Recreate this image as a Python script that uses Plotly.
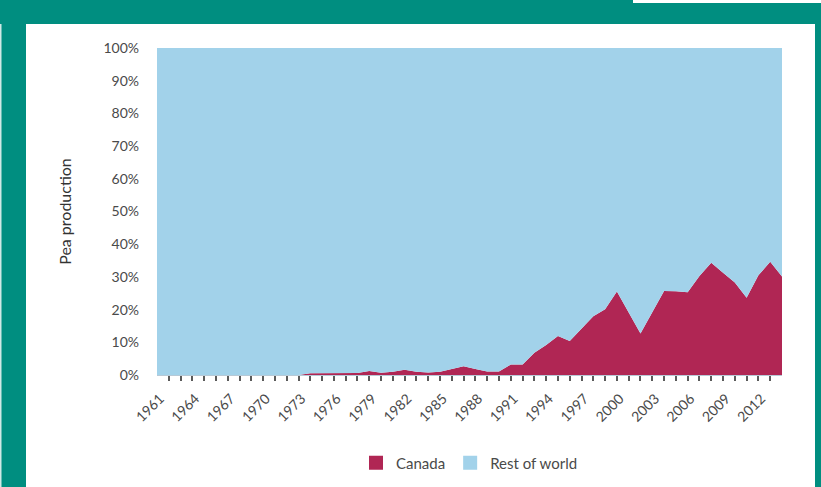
import plotly.graph_objects as go

years = list(range(1961, 2015))
canada_share = [0, 0, 0, 0, 0, 0, 0, 0, 0, 0, 0, 0, 0,
                0.5, 0.5, 0.5, 0.6, 0.6, 1.2, 0.7, 1.0, 1.6, 1.0, 0.8,
                1.0, 1.9, 2.7, 1.8, 1.1, 1.1, 3.2, 3.2, 6.8, 9.2, 11.9,
                10.4, 14.2, 18.0, 20.1, 25.5, 19.1, 12.7, 19.2, 25.7, 25.6,
                25.3, 30.3, 34.3, 31.3, 28.3, 23.6, 30.5, 34.6, 30.1]
rest_share = [round(100 - v, 1) for v in canada_share]

label_years = list(range(1961, 2013, 3))
tick_years = list(range(1962, 2014))
y_ticks = list(range(0, 101, 10))
y_labels = [f"{v}%" for v in y_ticks]

CANADA = "#B02654"
REST = "#A2D2EA"
TEAL = "#008E80"
FONT = "Lato"
TXT = "#4a4a4a"

fig = go.Figure()
fig.add_trace(go.Scatter(x=years, y=canada_share, stackgroup="s", mode="lines",
                         line=dict(width=0, color=CANADA), fillcolor=CANADA,
                         name="Canada", showlegend=False, hoverinfo="skip"))
fig.add_trace(go.Scatter(x=years, y=rest_share, stackgroup="s", mode="lines",
                         line=dict(width=0, color=REST), fillcolor=REST,
                         name="Rest of world", showlegend=False, hoverinfo="skip"))
# legend entries with square swatches (attached to the tick-mark axis so it is drawn)
fig.add_trace(go.Scatter(x=[None], y=[None], mode="markers", name="Canada", xaxis="x2",
                         marker=dict(symbol="square", size=14, color=CANADA)))
fig.add_trace(go.Scatter(x=[None], y=[None], mode="markers", name="Rest of world", xaxis="x2",
                         marker=dict(symbol="square", size=14, color=REST)))

L, R, T, B = 157, 39, 48, 112
W, H = 821, 487
pw, ph = W - L - R, H - T - B

def px(x):
    return (x - L) / pw

def py(y):
    return (H - B - y) / ph

shapes = [
    dict(type="rect", xref="paper", yref="paper", layer="below",
         x0=px(26), x1=px(815), y0=py(487) - 0.05, y1=py(24),
         fillcolor="white", line=dict(width=0)),
    dict(type="rect", xref="paper", yref="paper", layer="below",
         x0=px(633), x1=px(830), y0=py(3), y1=py(-10),
         fillcolor="white", line=dict(width=0)),
    dict(type="rect", xref="paper", yref="paper", layer="below",
         x0=px(-5), x1=px(1.5), y0=py(500), y1=py(24),
         fillcolor="#cfe9e5", line=dict(width=0)),
]

# rotated labels sit slightly right of their tick, as in the original
label_shift = 0.25

fig.update_layout(
    width=W, height=H,
    margin=dict(l=L, r=R, t=T, b=B, pad=0, autoexpand=False),
    paper_bgcolor=TEAL, plot_bgcolor="white",
    font=dict(family=FONT, size=14, color=TXT),
    shapes=shapes,
    showlegend=True,
    legend=dict(orientation="h", xref="container", yref="container",
                x=469.5 / W, xanchor="center", y=1 - 463 / H, yanchor="middle",
                font=dict(family=FONT, size=15, color=TXT), itemwidth=30,
                traceorder="normal", bgcolor="rgba(0,0,0,0)"),
    xaxis=dict(range=[1961, 2014], tickmode="array",
               tickvals=[v + label_shift for v in label_years],
               ticktext=[str(v) for v in label_years], tickangle=-45,
               ticks="", showgrid=False, zeroline=False, showline=True,
               linecolor="#b7c9d6", linewidth=1, ticklabelstandoff=9,
               automargin=False,
               tickfont=dict(family=FONT, size=14, color=TXT)),
    xaxis2=dict(range=[1961, 2014], overlaying="x", anchor="y", side="bottom",
                tickmode="array", tickvals=tick_years, ticks="outside", ticklen=5,
                tickwidth=1.5, tickcolor="#5a5a5a", showticklabels=False,
                showgrid=False, zeroline=False, showline=False, automargin=False),
    yaxis=dict(range=[0, 100], tickmode="array", tickvals=y_ticks, ticktext=y_labels,
               showgrid=False, zeroline=False, showline=False, ticks="",
               ticklabelstandoff=17, automargin=False,
               tickfont=dict(family=FONT, size=14, color=TXT),
               title=dict(text="Pea production", standoff=27,
                          font=dict(family=FONT, size=16, color="#333"))),
)

fig.write_html("out.html", config={"displayModeBar": False},
               post_script="document.body.style.margin='0px';")
